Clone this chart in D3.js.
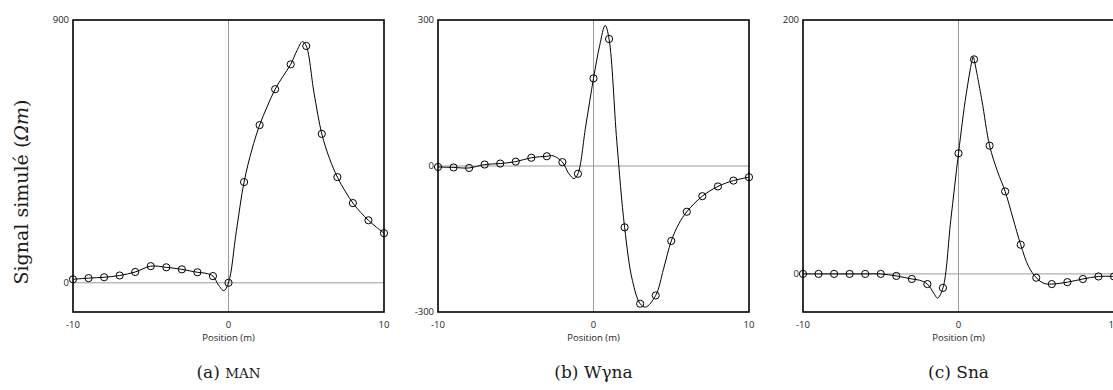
<!DOCTYPE html>
<html>
<head>
<meta charset="utf-8">
<script src="https://cdn.jsdelivr.net/npm/d3@7/dist/d3.min.js"></script>
<style>
  body { margin: 0; background: #fff; }
  svg { display: block; }
  .tick-label { font-family: "Open Sans", sans-serif; font-size: 9.5px; fill: #222; }
  .serif { font-family: "DejaVu Serif", serif; fill: #1a1a1a; }
</style>
</head>
<body>
<svg width="1113" height="390"></svg>
<script>
// positions of the sampled points
var positions = d3.range(-10, 11);

// sampled signal values (circles)
var sigMAN  = [12, 16, 19, 25, 37, 57, 53, 46, 36, 23, 0, 345, 540, 663, 748, 811, 510, 362, 273, 214, 170];
var sigWgna = [-2, -3, -4, 3, 5, 9, 17, 20, 8, -16, 180, 261, -126, -283, -266, -154, -94, -62, -42, -30, -23];
var sigSna  = [0, 0, 0, 0, 0, 0, -1.6, -4, -8, -11, 95, 169, 101, 65, 23, -3, -8, -6.5, -4, -2, -2];

// continuous simulated curve
var curveMAN = [[-10,12],[-9,16],[-8,19],[-7,25],[-6,37],[-5,57],[-4,53],[-3,46],[-2,36],[-1.5,33],[-1,23],
  [-0.65,-7],[-0.3,-27],[0,0],[0.5,175],[1,345],[1.5,455],[2,540],[2.5,605],[3,663],[3.5,707],[4,748],
  [4.4,795],[4.75,826],[5,811],[5.5,650],[6,510],[6.5,425],[7,362],[7.5,314],[8,273],[8.5,241],[9,214],[9.5,191],[10,170]];
var curveWgna = [[-10,-2],[-9,-3],[-8,-4],[-7,3],[-6,5],[-5,9],[-4,17],[-3,20],[-2.6,21],[-2,8],[-1.6,-15],
  [-1.25,-26],[-1,-16],[-0.5,82],[0,180],[0.4,248],[0.75,289],[1,261],[1.5,50],[2,-126],[2.5,-235],[3,-283],
  [3.35,-290],[4,-266],[4.5,-212],[5,-154],[5.5,-118],[6,-94],[7,-62],[8,-42],[9,-30],[10,-23]];
var curveSna = [[-10,0],[-9,0],[-8,0],[-7,0],[-6,0],[-5,0],[-4,-1.6],[-3,-4],[-2.5,-5],[-2,-8],[-1.6,-15],
  [-1.35,-19],[-1,-11],[-0.5,42],[0,95],[0.5,142],[0.95,171],[1,169],[1.5,137],[2,101],[2.5,81],[3,65],
  [3.5,44],[4,23],[4.5,6],[5,-3],[5.5,-7.5],[6,-8],[7,-6.5],[8,-4],[9,-2],[10,-2]];

var xTicks = [-10, 0, 10];
var panels = [
  { left: 73,  yDomain: [-100, 900], yTicks: [0, 900],       pts: sigMAN,  curve: curveMAN,  tag: "(a) ", name: "MAN", small: true },
  { left: 438, yDomain: [-300, 300], yTicks: [-300, 0, 300], pts: sigWgna, curve: curveWgna, tag: "(b) ", name: "W\u03b3na" },
  { left: 803, yDomain: [-30, 200],  yTicks: [0, 200],       pts: sigSna,  curve: curveSna,  tag: "(c) ", name: "Sna" }
];

var svg = d3.select('svg');
var plotW = 311, plotTop = 20, plotBottom = 312;

panels.forEach(function(p) {
  var x = d3.scaleLinear().domain([-10, 10]).range([p.left, p.left + plotW]);
  var y = d3.scaleLinear().domain(p.yDomain).range([plotBottom, plotTop]);
  var g = svg.append('g');

  // zero lines
  g.append('line').attr('x1', x(0)).attr('x2', x(0)).attr('y1', plotTop).attr('y2', plotBottom)
    .attr('stroke', '#9a9a9a').attr('stroke-width', 1);
  g.append('line').attr('x1', x(-10)).attr('x2', x(10)).attr('y1', y(0)).attr('y2', y(0))
    .attr('stroke', '#9a9a9a').attr('stroke-width', 1);

  // frame
  g.append('rect').attr('x', p.left).attr('y', plotTop).attr('width', plotW).attr('height', plotBottom - plotTop)
    .attr('fill', 'none').attr('stroke', '#000').attr('stroke-width', 1.6);

  // curve
  var line = d3.line().x(d => x(d[0])).y(d => y(d[1])).curve(d3.curveCatmullRom.alpha(0.5));
  g.append('path').datum(p.curve).attr('d', line)
    .attr('fill', 'none').attr('stroke', '#000').attr('stroke-width', 1);

  // sampled points
  g.selectAll('circle').data(p.pts).enter().append('circle')
    .attr('cx', (d, i) => x(positions[i]))
    .attr('cy', d => y(d))
    .attr('r', 3.6)
    .attr('fill', 'none').attr('stroke', '#000').attr('stroke-width', 1);

  // tick labels
  g.selectAll('.yl').data(p.yTicks).enter().append('text')
    .attr('class', 'tick-label').attr('x', p.left - 4).attr('y', d => y(d)).attr('dy', '0.35em')
    .attr('text-anchor', 'end').text(d => d);
  g.selectAll('.xl').data(xTicks).enter().append('text')
    .attr('class', 'tick-label').attr('x', d => x(d)).attr('y', plotBottom + 16)
    .attr('text-anchor', 'middle').text(d => d);

  g.append('text').attr('class', 'tick-label').attr('x', x(0)).attr('y', 341)
    .attr('text-anchor', 'middle').style('font-size', '9.5px').text('Position (m)');

  // caption
  var cap = g.append('text').attr('class', 'serif').attr('x', x(0)).attr('y', 378)
    .attr('text-anchor', 'middle').style('font-size', '17px');
  cap.append('tspan').text(p.tag);
  cap.append('tspan').style('font-size', p.small ? '13.5px' : '17px').text(p.name);
});

// y axis title
var yt = svg.append('text').attr('class', 'serif')
  .attr('transform', 'translate(28,192) rotate(-90)')
  .attr('text-anchor', 'middle').style('font-size', '19px');
yt.append('tspan').text('Signal simulé (');
yt.append('tspan').style('font-style', 'italic').text('\u03a9m');
yt.append('tspan').text(')');
</script>
</body>
</html>
